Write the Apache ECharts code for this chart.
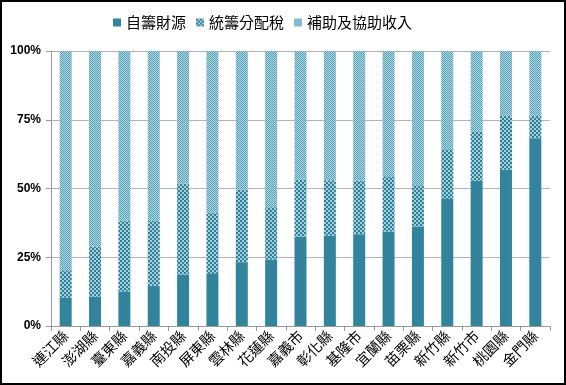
<!DOCTYPE html>
<html><head><meta charset="utf-8">
<script src="https://cdn.jsdelivr.net/npm/echarts@6/dist/echarts.min.js"></script>
<style>html,body{margin:0;padding:0;background:#fff}#c{width:566px;height:385px}</style>
</head><body><div id="c"></div>
<script>
const categories = ['連江縣','澎湖縣','臺東縣','嘉義縣','南投縣','屏東縣','雲林縣','花蓮縣','嘉義市','彰化縣','基隆市','宜蘭縣','苗栗縣','新竹縣','新竹市','桃園縣','金門縣'];
const selfFunded = [10.4,10.7,12.6,14.6,18.6,19.2,23.2,24.2,32.5,32.9,33.4,34.4,36.1,46.2,52.8,56.8,68.3];
const allocatedTax = [9.6,18.2,25.7,23.7,33.2,22.0,26.4,19.0,20.8,20.1,19.5,19.8,15.1,18.1,18.0,19.7,8.2];
const subsidies = [80.0,71.1,61.7,61.7,48.2,58.8,50.4,56.8,46.7,47.0,47.1,45.8,48.8,35.7,29.2,23.5,23.5];
const seriesNames = ['自籌財源','統籌分配稅','補助及協助收入'];
const yTicks = [0,25,50,75,100];

function makePattern(size, block, dark, light){
  const cv = document.createElement('canvas');
  cv.width = size; cv.height = size;
  const g = cv.getContext('2d');
  g.fillStyle = light; g.fillRect(0,0,size,size);
  g.fillStyle = dark;
  for (let y=0;y<size;y+=block) for (let x=0;x<size;x+=block){
    if (((x/block)+(y/block))%2===0) g.fillRect(x,y,block,block);
  }
  return {image: cv, repeat: 'repeat'};
}
const solid = '#31849B';
const pat1 = makePattern(4, 2, '#2c7f96', '#a3cfdb');
const pat2 = makePattern(2, 1, '#5aa2b6', '#aed6e1');

const chart = echarts.init(document.getElementById('c'));
const fills = [solid, pat1, pat2];
const data = [selfFunded, allocatedTax, subsidies];
chart.setOption({
  animation: false,
  graphic: [{type:'rect', shape:{x:1,y:1,width:564,height:383}, style:{fill:'none', stroke:'#000', lineWidth:2}, silent:true}],
  legend: {
    top: 10, left: 108, itemWidth: 8, itemHeight: 8, itemGap: 10,
    icon: 'rect',
    textStyle: {fontSize: 15, color:'#000', fontFamily:'Noto Sans CJK TC'},
    data: seriesNames
  },
  grid: {left: 51, right: 16, top: 51, bottom: 59},
  xAxis: {
    type:'category', data: categories,
    axisLine:{lineStyle:{color:'#9a9a9a'}},
    axisTick:{show:true, length:5, lineStyle:{color:'#9a9a9a'}},
    axisLabel:{rotate:45, fontSize:14.5, color:'#000', fontFamily:'Noto Sans CJK TC', margin:7, interval:0}
  },
  yAxis: {
    type:'value', min:0, max:100, interval:25,
    axisLine:{show:true, lineStyle:{color:'#9a9a9a'}},
    axisTick:{show:true, length:5, lineStyle:{color:'#9a9a9a'}},
    splitLine:{lineStyle:{color:'#b4b4b4'}},
    axisLabel:{formatter: v => yTicks.includes(v) ? v+'%' : '', fontSize:12, fontWeight:'bold', color:'#000', fontFamily:'Liberation Sans', margin:10}
  },
  series: seriesNames.map((n,i)=>({
    name:n, type:'bar', stack:'t', barWidth:12, data:data[i],
    itemStyle:{color:fills[i]}
  }))
});
</script></body></html>
